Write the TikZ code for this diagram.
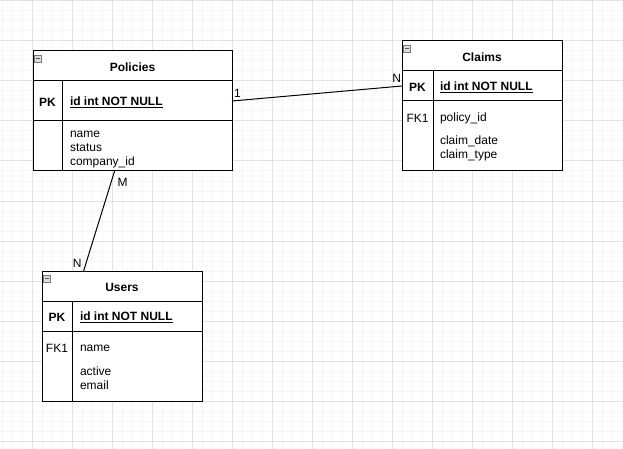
\documentclass[tikz,border=0pt]{standalone}
\usepackage{fontspec}
\setmainfont{Liberation Sans}
\usetikzlibrary{positioning,calc}
\definecolor{gridminor}{RGB}{246,246,246}
\definecolor{gridmajor}{RGB}{226,226,226}
\definecolor{iconfill}{RGB}{222,222,222}
\definecolor{icondraw}{RGB}{120,120,120}

\begin{document}
\begin{tikzpicture}[x=1pt, y=-1pt, node distance=0pt,
    every node/.style={font=\fontsize{12}{14}\selectfont, inner sep=0pt, outer sep=0pt},
    tblpart/.style={draw, line width=1pt, minimum width=#1, anchor=north},
    tbltitle/.style={font=\fontsize{12}{14}\selectfont\bfseries, yshift=-1pt},
    keytxt/.style={font=\fontsize{12}{14}\selectfont\bfseries, yshift=-1pt},
    coltxt/.style={anchor=west, align=left},
    tblicon/.style={draw=icondraw, fill=iconfill, line width=0.6pt, minimum size=7pt,
      path picture={\draw[line width=0.9pt, icondraw!70!black] ([xshift=1.3pt]path picture bounding box.west) -- ([xshift=-1.3pt]path picture bounding box.east);}},
    conn/.style={line width=1pt}]
    \useasboundingbox (0,0) rectangle (623,449);
    \fill[white] (0,0) rectangle (623,449);
    % grid
    \foreach \gx in {2,12,...,622} \draw[gridminor, line width=1pt] (\gx,0) -- (\gx,449);
    \foreach \gy in {1,11,...,441} \draw[gridminor, line width=1pt] (0,\gy) -- (623,\gy);
    \foreach \gx in {32,72,...,612} \draw[gridmajor, line width=1pt] (\gx,0) -- (\gx,449);
    \foreach \gy in {1,41,...,441} \draw[gridmajor, line width=1pt] (0,\gy) -- (623,\gy);

    % Policies
    \node[tblpart=199pt, minimum height=30pt, fill=white] (polhead) at (132.5,51) {};
    \node[tblpart=199pt, minimum height=40pt, fill=white, below=of polhead] (polpk) {};
    \node[tblpart=199pt, minimum height=50pt, fill=white, below=of polpk] (polbody) {};
    \draw[line width=1pt] ($(polpk.north west)+(29,0)$) -- ($(polbody.south west)+(29,0)$);
    \node[tbltitle] (poltitle) at (polhead) {Policies};
    \node[keytxt] (polpkkey) at ($(polpk.west)+(14.5,0)$) {PK};
    \node[keytxt, coltxt] (polid) at ($(polpk.west)+(37,0)$) {\underline{id int NOT NULL}};
    \node[coltxt] (polcols) at ($(polbody.west)+(37,3.5)$) {name\\status\\company\_id};

    % Claims
    \node[tblpart=160pt, minimum height=30pt, fill=white] (clmhead) at (482,41) {};
    \node[tblpart=160pt, minimum height=30pt, fill=white, below=of clmhead] (clmpk) {};
    \node[tblpart=160pt, minimum height=70pt, fill=white, below=of clmpk] (clmbody) {};
    \draw[line width=1pt] ($(clmpk.north west)+(31,0)$) -- ($(clmbody.south west)+(31,0)$);
    \node[tbltitle] (clmtitle) at (clmhead) {Claims};
    \node[keytxt] (clmpkkey) at ($(clmpk.west)+(15.5,0)$) {PK};
    \node[keytxt, coltxt] (clmid) at ($(clmpk.west)+(38,0)$) {\underline{id int NOT NULL}};
    \node (clmfkkey) at ($(clmbody.north west)+(15.5,17)$) {FK1};
    \node[coltxt] (clmfk) at ($(clmbody.north west)+(38,17)$) {policy\_id};
    \node[coltxt] (clmcols) at ($(clmbody.north west)+(38,47.5)$) {claim\_date\\claim\_type};

    % Users
    \node[tblpart=160pt, minimum height=30pt, fill=white] (usrhead) at (122,271) {};
    \node[tblpart=160pt, minimum height=30pt, fill=white, below=of usrhead] (usrpk) {};
    \node[tblpart=160pt, minimum height=70pt, fill=white, below=of usrpk] (usrbody) {};
    \draw[line width=1pt] ($(usrpk.north west)+(30,0)$) -- ($(usrbody.south west)+(30,0)$);
    \node[tbltitle] (usrtitle) at (usrhead) {Users};
    \node[keytxt] (usrpkkey) at ($(usrpk.west)+(15,0)$) {PK};
    \node[keytxt, coltxt] (usrid) at ($(usrpk.west)+(38,0)$) {\underline{id int NOT NULL}};
    \node (usrfkkey) at ($(usrbody.north west)+(15,17)$) {FK1};
    \node[coltxt] (usrfk) at ($(usrbody.north west)+(38,17)$) {name};
    \node[coltxt] (usrcols) at ($(usrbody.north west)+(38,47.5)$) {active\\email};

    % collapse icons
    \foreach \t in {polhead,clmhead,usrhead}
        \node[tblicon] (\t-icon) at ($(\t.north west)+(5,7.5)$) {};

    % relations
    \draw[conn] (polpk.east) -- (clmpk.west)
        node[pos=0, anchor=south west, xshift=2pt, yshift=3.5pt] (rel1a) {1}
        node[pos=1, anchor=south east, xshift=-1pt, yshift=3.5pt] (rel1b) {N};
    \draw[conn] ($(polbody.south west)!0.41!(polbody.south east)$) -- ($(usrhead.north west)!0.26!(usrhead.north east)$)
        node[pos=0, anchor=north west, xshift=3pt, yshift=-7pt] (rel2a) {M}
        node[pos=1, anchor=south east, xshift=-2pt, yshift=3.5pt] (rel2b) {N};
\end{tikzpicture}
\end{document}
